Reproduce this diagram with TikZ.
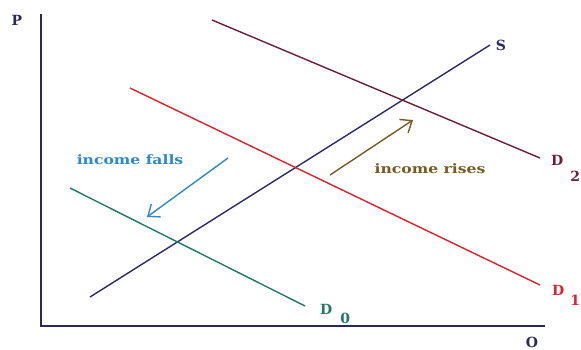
\documentclass[tikz,border=0pt]{standalone}
\usepackage{fontspec}
\setmainfont{DejaVu Serif}
\usetikzlibrary{arrows.meta}
\definecolor{axiscol}{HTML}{2A2A5A}
\definecolor{scol}{HTML}{2B2B6B}
\definecolor{dtwo}{HTML}{6B1E3C}
\definecolor{done}{HTML}{E0202A}
\definecolor{dzero}{HTML}{1F7A6A}
\definecolor{fallcol}{HTML}{2A8ACC}
\definecolor{risecol}{HTML}{7A5A20}
\tikzset{
  curve/.style={line width=1.4pt},
  lbl/.style={font=\bfseries\fontsize{13}{15}\selectfont\addfontfeatures{FakeStretch=1.2}, inner sep=0pt},
  axlbl/.style={font=\bfseries\fontsize{14}{16}\selectfont, inner sep=0pt},
  shift arrow/.style={line width=1.4pt, -{Straight Barb[length=10pt,width=16pt]}},
}
\begin{document}
\begin{tikzpicture}[x=1pt,y=-1pt]
\useasboundingbox (0,0) rectangle (581,349);
% axes
\coordinate (top) at (41,14);
\coordinate (orig) at (41,326);
\coordinate (right) at (545,326);
\draw[axiscol, line width=2pt] (top) -- (orig) -- (right);
\node[axlbl, text=axiscol] (P) at (17,20) {P};
\node[axlbl, text=axiscol] (Q) at (532,342) {O};
% supply
\coordinate (s0) at (90,297);
\coordinate (s1) at (490,45);
\draw[curve, scol] (s0) -- (s1);
\node[axlbl, text=scol] (S) at (501,45) {S};
% D2
\coordinate (a0) at (212,20);
\coordinate (a1) at (540,158);
\draw[curve, dtwo] (a0) -- (a1);
\node[axlbl, text=dtwo, anchor=base west] (D2) at (551,165) {D\hspace{7pt}\raisebox{-16pt}{2}};
% D1
\coordinate (b0) at (130,88);
\coordinate (b1) at (540,285);
\draw[curve, done] (b0) -- (b1);
\node[axlbl, text=done, anchor=base west] (D1) at (552,295) {D\hspace{6pt}\raisebox{-10pt}{1}};
% D0
\coordinate (c0) at (70,188);
\coordinate (c1) at (305,306);
\draw[curve, dzero] (c0) -- (c1);
\node[axlbl, text=dzero, anchor=base west] (D0) at (320,314) {D\hspace{8pt}\raisebox{-9pt}{0}};
% income falls
\coordinate (f0) at (228,158);
\coordinate (f1) at (147,217);
\draw[shift arrow, fallcol] (f0) -- (f1);
\node[lbl, text=fallcol] (falls) at (130,160) {income falls};
% income rises
\coordinate (r0) at (330,175);
\coordinate (r1) at (413,120);
\draw[shift arrow, risecol] (r0) -- (r1);
\node[lbl, text=risecol] (rises) at (430,169) {income rises};
\end{tikzpicture}
\end{document}
